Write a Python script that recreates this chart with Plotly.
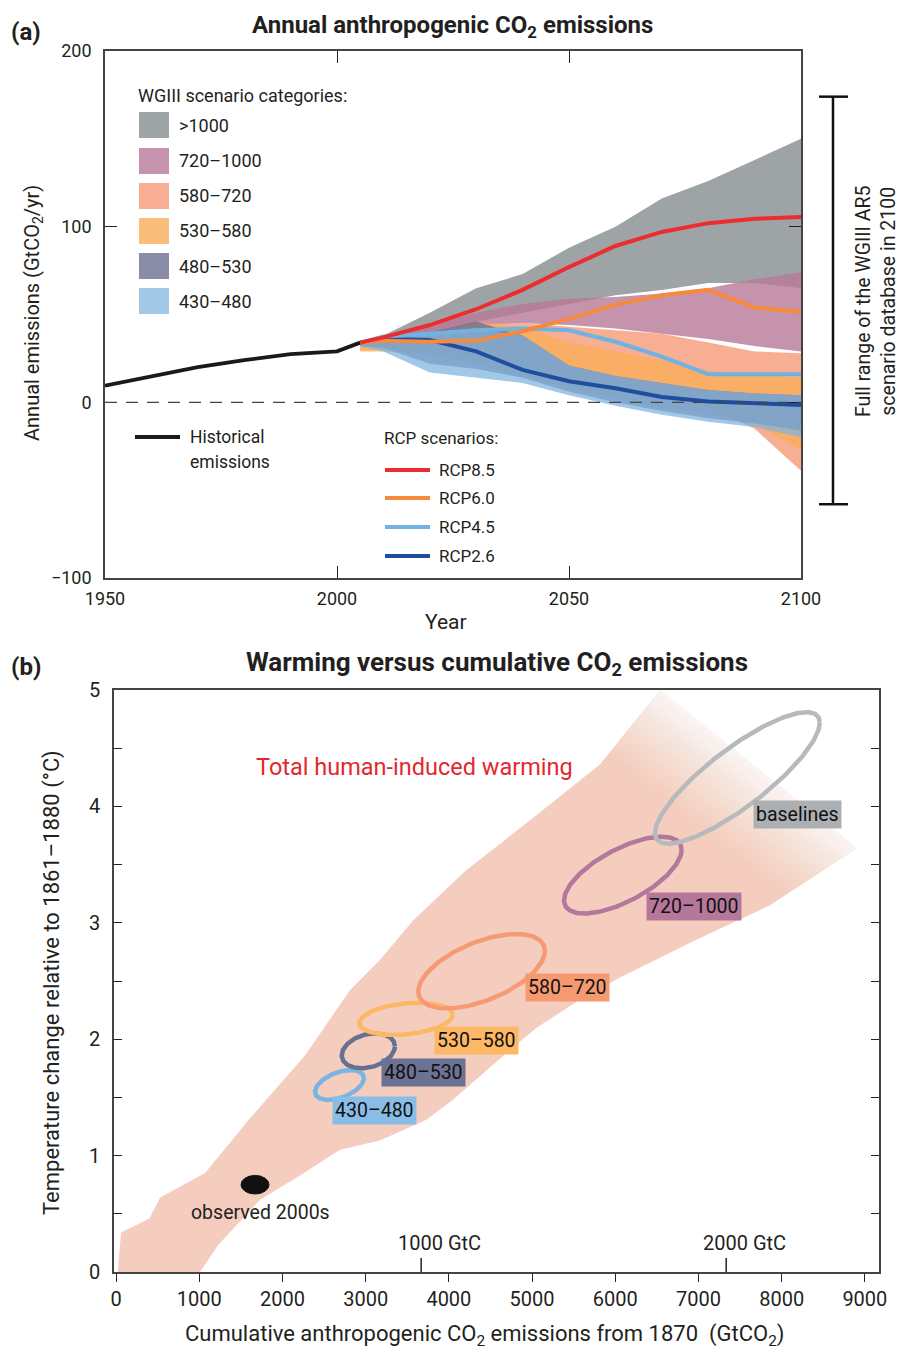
import numpy as np
import plotly.graph_objects as go

W, H = 903, 1351
FONT = "Roboto, sans-serif"
TXT = "#231f20"

# ---------------- Panel (a) data ----------------
hist_years = [1950, 1960, 1970, 1980, 1990, 2000, 2005]
hist_emis = [9.5, 14.5, 20, 24, 27.5, 29, 34]

scen_years = [2005, 2010, 2020, 2030, 2040, 2050, 2060, 2070, 2080, 2090, 2100]
rcp85 = [34, 37, 44, 53, 64, 77, 89, 97, 102, 104.5, 105.5]
rcp60 = [34, 35, 34.5, 35, 40.5, 47.5, 55.5, 61, 64, 54, 51.5]
rcp45 = [34, 37.5, 39, 41, 42, 41, 34.5, 26, 16, 16, 16]
rcp26 = [34, 36, 35.5, 29, 18.5, 12, 8, 3, 0.5, -0.5, -1.5]

cat_names = [">1000", "720–1000", "580–720", "530–580", "480–530", "430–480"]
gt1000_hi = [34, 38, 51, 65, 73, 88, 100, 116, 126, 138, 150]
gt1000_lo = [33, 36, 40, 46, 51, 56, 61, 64, 68, 68, 65]
c720_hi = [34, 37, 44, 51, 56, 59, 60, 62, 65, 70, 74]
c720_lo = [33, 35, 39, 44, 45, 44, 42, 39, 36, 32, 29]
c580_hi = [34, 36, 40, 45, 45, 43, 41, 39, 34, 29, 28]
c580_lo = [30, 30, 29, 26, 20, 14, 8, 3, -3, -15, -39]
c530_hi = [33, 35, 39, 45, 43, 34, 29, 24, 18, 16, 14]
c530_lo = [29, 29, 27, 22, 15, 8, 2, -3, -7, -12, -27]
c480_hi = [34, 36, 40, 46, 38, 21, 15, 11, 7, 5, 4]
c480_lo = [32, 31, 22, 19, 14, 6, 0, -5, -9, -12, -16]
c430_hi = [34, 36, 40, 42, 38, 21, 15, 11, 7, 5, 4]
c430_lo = [32, 29, 17, 14, 11, 4, -2, -7, -11, -14, -20]
full_range_2100 = [-58, 174]

# ---------------- Panel (b) data ----------------
plume_up_x = [20, 60, 400, 530, 1070, 1610, 2270, 2810, 3170, 3570, 4190, 4975, 5815, 6540]
plume_up_y = [0.0, 0.34, 0.46, 0.64, 0.85, 1.32, 1.86, 2.42, 2.68, 3.02, 3.44, 3.88, 4.36, 5.0]
plume_lo_x = [8905, 7860, 7018, 6057, 5576, 5059, 4770, 4049, 3737, 3172, 2691, 2211, 1730, 1225, 1009]
plume_lo_y = [3.64, 3.15, 2.87, 2.53, 2.34, 2.10, 1.93, 1.48, 1.31, 1.13, 1.05, 0.83, 0.62, 0.23, 0.0]

ell_labels = ["430–480", "480–530", "530–580", "580–720", "720–1000", "baselines"]
ell_cum_lo = [2391, 2712, 2923, 3632, 5384, 6477]
ell_cum_hi = [2980, 3352, 4046, 5155, 6798, 8458]
ell_t_lo = [1.478, 1.75, 2.036, 2.265, 3.08, 3.68]
ell_t_hi = [1.735, 2.05, 2.313, 2.904, 3.74, 4.81]
ell_tilt = [63, 75, 75, 57, 49, 33]
lab_x = [3112, 3689, 4338, 5420, 6946, 8196]
lab_y = [1.39, 1.71, 1.99, 2.44, 3.14, 3.93]

obs_cum = [1502, 1838]
obs_t = [0.67, 0.83]
gtc_marks = [1000, 2000]

# ---------------- styles ----------------
band_alone = ["#9ea3a6", "#c693ac", "#f8ae93", "#fbbd7a", "#8b8da6", "#a2c8e8"]
band_fill = ["rgb(158,163,166)", "rgba(184,120,151,0.8)", "rgba(246,154,120,0.8)",
             "rgba(250,172,89,0.8)", "rgba(110,112,144,0.8)", "rgba(128,180,223,0.73)"]
ell_line = ["#7ab4e2", "#687092", "#fdb863", "#f59b74", "#b4789c", "#b7babd"]
ell_bg = ["#89bde6", "#6b7294", "#fdb866", "#f59a70", "#b5789b", "#adb0b3"]
rcp_col = {"RCP8.5": "#ec2d2f", "RCP6.0": "#f58a3c", "RCP4.5": "#6fb2e4", "RCP2.6": "#1f4e9e"}

fig = go.Figure()

bands = [(gt1000_lo, gt1000_hi), (c720_lo, c720_hi), (c580_lo, c580_hi),
         (c530_lo, c530_hi), (c480_lo, c480_hi), (c430_lo, c430_hi)]
for (lo, hi), col in zip(bands, band_fill):
    fig.add_trace(go.Scatter(x=scen_years, y=lo, mode="lines", line=dict(width=0),
                             hoverinfo="skip", showlegend=False, xaxis="x", yaxis="y"))
    fig.add_trace(go.Scatter(x=scen_years, y=hi, mode="lines", line=dict(width=0),
                             fill="tonexty", fillcolor=col, hoverinfo="skip",
                             showlegend=False, xaxis="x", yaxis="y"))

fig.add_trace(go.Scatter(x=hist_years, y=hist_emis, mode="lines",
                         line=dict(color="#1a1a1a", width=3.8), showlegend=False))
for name, vals in [("RCP2.6", rcp26), ("RCP4.5", rcp45), ("RCP6.0", rcp60), ("RCP8.5", rcp85)]:
    fig.add_trace(go.Scatter(x=scen_years, y=vals, mode="lines",
                             line=dict(color=rcp_col[name], width=4), showlegend=False))

# ---------------- panel (b) ----------------
px_per_x = 765 / 9195.0
px_per_y = 582 / 5.0
nx, ny = 0.623, 0.782


def fade(x, y):
    return nx * x * px_per_x + ny * y * px_per_y


poly_x = plume_up_x + plume_lo_x
poly_y = plume_up_y + plume_lo_y
fig.add_trace(go.Scatter(x=poly_x + [poly_x[0]], y=poly_y + [poly_y[0]], mode="lines",
                         line=dict(width=0), fill="toself", fillcolor="rgb(245,205,191)",
                         hoverinfo="skip", showlegend=False, xaxis="x2", yaxis="y2"))


def clip(xs, ys, c):
    pts = list(zip(xs, ys))
    out = []
    n = len(pts)
    for i in range(n):
        P, Q = pts[i], pts[(i + 1) % n]
        fp, fq = fade(*P) - c, fade(*Q) - c
        if fp >= 0:
            out.append(P)
        if (fp >= 0) != (fq >= 0):
            tt = fp / (fp - fq)
            out.append((P[0] + tt * (Q[0] - P[0]), P[1] + tt * (Q[1] - P[1])))
    return out


N = 20
f0, f1, wmax = 715, 796, 0.85
prev = 0.0
for k in range(1, N + 1):
    c = f0 + (k - 1) * (f1 - f0) / N
    w = wmax * k / N
    a = 1 - (1 - w) / (1 - prev)
    prev = w
    pts = clip(poly_x, poly_y, c)
    if len(pts) < 3:
        continue
    cx_, cy_ = zip(*pts)
    fig.add_trace(go.Scatter(x=list(cx_) + [cx_[0]], y=list(cy_) + [cy_[0]], mode="lines",
                             line=dict(width=0), fill="toself",
                             fillcolor=f"rgba(255,255,255,{a:.3f})", hoverinfo="skip",
                             showlegend=False, xaxis="x2", yaxis="y2"))

t = np.linspace(0, 2 * np.pi, 241)
for i in range(len(ell_labels)):
    cx = (ell_cum_lo[i] + ell_cum_hi[i]) / 2
    dx = (ell_cum_hi[i] - ell_cum_lo[i]) / 2
    cy = (ell_t_lo[i] + ell_t_hi[i]) / 2
    dy = (ell_t_hi[i] - ell_t_lo[i]) / 2
    ph = np.deg2rad(ell_tilt[i])
    fig.add_trace(go.Scatter(x=cx + dx * np.cos(t), y=cy + dy * np.cos(t - ph), mode="lines",
                             line=dict(color=ell_line[i], width=4.5), hoverinfo="skip",
                             showlegend=False, xaxis="x2", yaxis="y2"))

ocx, odx = (obs_cum[0] + obs_cum[1]) / 2, (obs_cum[1] - obs_cum[0]) / 2
ocy, ody = (obs_t[0] + obs_t[1]) / 2, (obs_t[1] - obs_t[0]) / 2
fig.add_trace(go.Scatter(x=ocx + odx * np.cos(t), y=ocy + ody * np.sin(t), mode="lines",
                         line=dict(color="#111", width=1), fill="toself", fillcolor="#111",
                         hoverinfo="skip", showlegend=False, xaxis="x2", yaxis="y2"))

shapes = []
ann = []


def A(text, x, y, size=18, xref="paper", yref="paper", xanchor="left", yanchor="middle",
      color=TXT, angle=0, **kw):
    ann.append(dict(text=text, x=x, y=y, xref=xref, yref=yref, xanchor=xanchor,
                    yanchor=yanchor, showarrow=False, textangle=angle,
                    font=dict(family=FONT, size=size, color=color), **kw))


def px2paper(xp, yp):
    return xp / W, 1 - yp / H


# titles / panel labels
A("<b>(a)</b>", *px2paper(9, 32), size=24)
A("<b>Annual anthropogenic CO<sub>2</sub> emissions</b>", *px2paper(452, 26), size=24, xanchor="center")
A("<b>(b)</b>", *px2paper(9, 667), size=24)
A("<b>Warming versus cumulative CO<sub>2</sub> emissions</b>", *px2paper(497, 663), size=26, xanchor="center")

A("Annual emissions (GtCO<sub>2</sub>/yr)", *px2paper(33, 313), size=20, xanchor="center", angle=-90)
A("Year", *px2paper(446, 622), size=21, xanchor="center")
A("Temperature change relative to 1861–1880 (°C)", *px2paper(52, 983), size=22, xanchor="center", angle=-90)
A("Cumulative anthropogenic CO<sub>2</sub> emissions from 1870  (GtCO<sub>2</sub>)", *px2paper(484, 1335),
  size=22, xanchor="center")

# legend (categories)
A("WGIII scenario categories:", *px2paper(136, 95), size=18)
ys = [125, 161, 196, 231, 266, 301]
for name, col, yc in zip(cat_names, band_alone, ys):
    x0, y0 = px2paper(139, yc + 13)
    x1, y1 = px2paper(169, yc - 13)
    shapes.append(dict(type="rect", xref="paper", yref="paper", x0=x0, x1=x1, y0=y0, y1=y1,
                       fillcolor=col, line=dict(width=0)))
    A(name, *px2paper(177, yc), size=18)

# legend (historical / RCP)
x0, yy = px2paper(135, 437)
x1, _ = px2paper(180, 437)
shapes.append(dict(type="line", xref="paper", yref="paper", x0=x0, x1=x1, y0=yy, y1=yy,
                   line=dict(color="#1a1a1a", width=4)))
A("Historical", *px2paper(188, 437), size=17.5)
A("emissions", *px2paper(188, 462), size=17.5)
A("RCP scenarios:", *px2paper(382, 438), size=17)
for name, yc in zip(["RCP8.5", "RCP6.0", "RCP4.5", "RCP2.6"], [470, 498, 527, 556]):
    x0, yy = px2paper(385, yc)
    x1, _ = px2paper(430, yc)
    shapes.append(dict(type="line", xref="paper", yref="paper", x0=x0, x1=x1, y0=yy, y1=yy,
                       line=dict(color=rcp_col[name], width=4)))
    A(name, *px2paper(437, yc), size=17)

# zero line
shapes.append(dict(type="line", xref="x", yref="y", x0=1950, x1=2100, y0=0, y1=0, layer="above",
                   line=dict(color="#444", width=1.4, dash="12px,9px")))

# full-range bracket
bx, _ = px2paper(833, 0)
bl, _ = px2paper(819, 0)
br, _ = px2paper(848, 0)
shapes.append(dict(type="line", xref="paper", yref="y", x0=bx, x1=bx, y0=full_range_2100[0],
                   y1=full_range_2100[1], line=dict(color="#111", width=2.5)))
for v in full_range_2100:
    shapes.append(dict(type="line", xref="paper", yref="y", x0=bl, x1=br, y0=v, y1=v,
                       line=dict(color="#111", width=2.5)))
A("Full range of the WGIII AR5<br>scenario database in 2100", *px2paper(876, 302), size=19.5,
  xanchor="center", angle=-90)

# panel b text
A("Total human-induced warming", 3581, 4.34, size=23.5, xref="x2", yref="y2", xanchor="center",
  color="#e3272d")
A("observed 2000s", 1730, 0.515, size=19.5, xref="x2", yref="y2", xanchor="center")
for i, lab in enumerate(ell_labels):
    A(lab, lab_x[i], lab_y[i], size=19.5, xref="x2", yref="y2", xanchor="center",
      bgcolor=ell_bg[i], borderpad=2, color="#111")
for g in gtc_marks:
    xv = g * 44.0 / 12.0
    shapes.append(dict(type="line", xref="x2", yref="y2", x0=xv, x1=xv, y0=0, y1=0.12,
                       line=dict(color="#222", width=1.5)))
    A(f"{g} GtC", xv, 0.25, size=20, xref="x2", yref="y2", xanchor="center", xshift=18)

axis_common = dict(showgrid=False, zeroline=False, showline=True, linecolor="#444",
                   linewidth=1.6, tickcolor="#222", tickwidth=1.3)

fig.update_layout(
    width=W, height=H, margin=dict(l=0, r=0, t=0, b=0, pad=0, autoexpand=False),
    paper_bgcolor="white", plot_bgcolor="white", showlegend=False,
    xaxis=dict(domain=[105 / W, 801 / W], anchor="y", range=[1950, 2100],
               tickvals=[1950, 2000, 2050, 2100], ticks="inside", ticklen=12, mirror="ticks",
               ticklabelstandoff=4, tickfont=dict(family=FONT, size=18, color=TXT), **axis_common),
    yaxis=dict(domain=[1 - 578 / H, 1 - 51 / H], anchor="x", range=[-100, 200],
               tickvals=[-100, 0, 100, 200], ticktext=["−100", "0", "100", "200"],
               ticks="inside", ticklen=12, mirror="ticks", ticklabelstandoff=8,
               tickfont=dict(family=FONT, size=18, color=TXT), **axis_common),
    xaxis2=dict(domain=[114 / W, 879 / W], anchor="y2", range=[-25, 9170],
                tickvals=list(range(0, 9001, 1000)), ticks="outside", ticklen=8, mirror=True,
                tickfont=dict(family=FONT, size=20, color=TXT), **axis_common),
    yaxis2=dict(domain=[1 - 1272 / H, 1 - 690 / H], anchor="x2", range=[0, 5],
                tick0=0, dtick=1, ticks="inside", ticklen=8, mirror="ticks", ticklabelstandoff=8,
                minor=dict(tick0=0, dtick=0.5, ticks="inside", ticklen=8, tickcolor="#222",
                           tickwidth=1.3),
                tickfont=dict(family=FONT, size=20, color=TXT), **axis_common),
    shapes=shapes, annotations=ann,
)

fig.write_html("out.html")
